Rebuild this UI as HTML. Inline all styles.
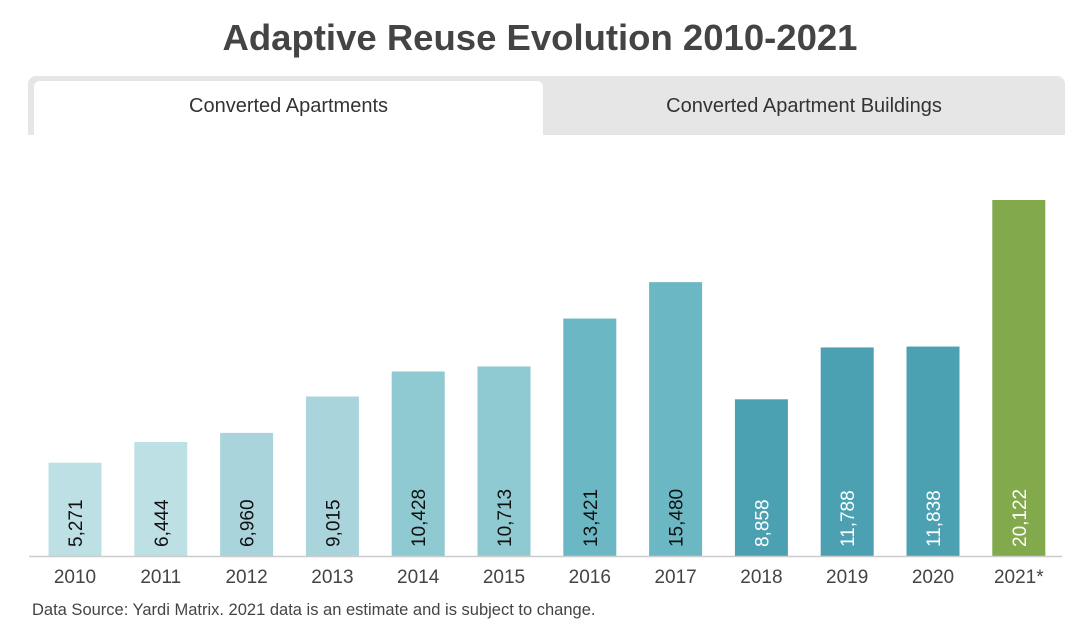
<!DOCTYPE html>
<html><head><meta charset="utf-8"><style>
body{margin:0;background:#fff;font-family:"Liberation Sans",sans-serif;}
#wrap{position:relative;width:1080px;height:639px;overflow:hidden;}
#title{position:absolute;left:0;width:1080px;top:17px;text-align:center;font-size:36.5px;font-weight:bold;color:#444;}
#tabs{position:absolute;left:28px;top:76px;width:1037px;height:59px;background:#e6e6e6;border-radius:8px 8px 0 0;}
.tab{position:absolute;top:0;height:59px;line-height:60px;text-align:center;font-size:20px;color:#333;}
#t1{left:6px;top:5px;width:509px;height:54px;line-height:50px;background:#fff;border-radius:6px 6px 0 0;}
#t2{left:515px;width:522px;}
#foot{position:absolute;left:32px;top:601px;font-size:16.5px;color:#444;}
</style></head><body>
<div id="wrap">
<div id="title">Adaptive Reuse Evolution 2010-2021</div>
<div id="tabs">
<div class="tab" id="t1">Converted Apartments</div>
<div class="tab" id="t2">Converted Apartment Buildings</div>
</div>
<svg id="chart" width="1080" height="639" style="position:absolute;left:0;top:0"></svg>
<div id="foot">Data Source: Yardi Matrix. 2021 data is an estimate and is subject to change.</div>
</div>
<script>
const categories=["2010","2011","2012","2013","2014","2015","2016","2017","2018","2019","2020","2021*"];
const values=[5271,6444,6960,9015,10428,10713,13421,15480,8858,11788,11838,20122];
const labels=["5,271","6,444","6,960","9,015","10,428","10,713","13,421","15,480","8,858","11,788","11,838","20,122"];
const colors=["#bde0e5","#bde0e5","#aad4dc","#aad4dc","#8fc9d2","#8fc9d2","#6bb8c4","#6bb8c4","#4ba1b2","#4ba1b2","#4ba1b2","#82a94b"];
const NS="http://www.w3.org/2000/svg";
const svg=document.getElementById('chart');
const base=556, maxV=20122, maxH=356;
const y=v=>base-v/maxV*maxH;
const xc=i=>75+i*85.8;
const bw=53;
function mk(t,a){const e=document.createElementNS(NS,t);for(const k in a)e.setAttribute(k,a[k]);svg.appendChild(e);return e;}
categories.forEach((c,i)=>{
  const r=mk('rect',{x:xc(i)-bw/2,y:y(values[i]),width:bw,height:base-y(values[i]),fill:colors[i]});
  
  
  const tx=xc(i)+7, ty=547;
  const l=mk('text',{x:tx,y:ty,transform:`rotate(-90 ${tx} ${ty})`,'font-size':19,fill:i>=8?'#fff':'#111','font-family':'Liberation Sans, sans-serif'});
  l.textContent=labels[i];
  
  
  const yl=mk('text',{x:xc(i),y:583,'text-anchor':'middle','font-size':19,fill:'#444','font-family':'Liberation Sans, sans-serif'});
  yl.textContent=c;
  
  
});
const ax=mk('line',{x1:29,x2:1062,y1:556.5,y2:556.5,stroke:'#ccc','stroke-width':1.5});


</script>
</body></html>
